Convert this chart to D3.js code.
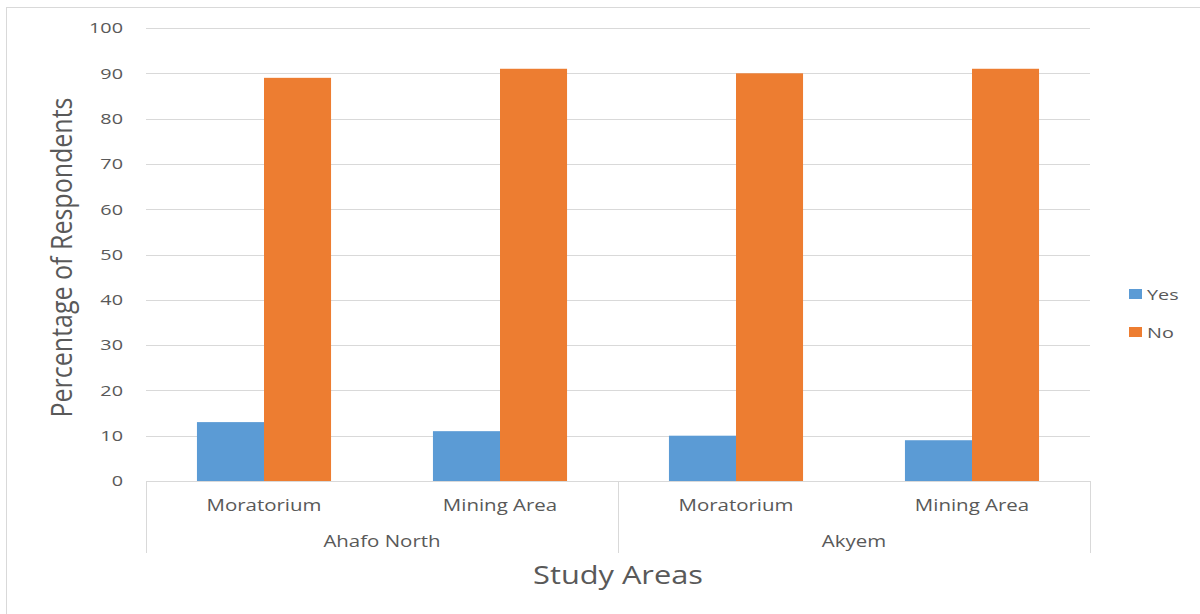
<!DOCTYPE html>
<html><head><meta charset="utf-8">
<script src="https://cdn.jsdelivr.net/npm/d3@7"></script>
<style>body{margin:0;background:#fff;}svg{display:block;font-family:"Open Sans",sans-serif;}</style>
</head><body><svg id="c" width="1200" height="614"></svg>
<script>
const groups = ["Ahafo North", "Akyem"];
const subcats = ["Moratorium", "Mining Area", "Moratorium", "Mining Area"];
const groupOf = [0, 0, 1, 1];
const seriesNames = ["Yes", "No"];
const yesVals = [13, 11, 10, 9];
const noVals = [89, 91, 90, 91];
const yTicks = [0, 10, 20, 30, 40, 50, 60, 70, 80, 90, 100];
const colors = ["#5B9BD5", "#ED7D31"];

const svg = d3.select("#c");
const L = 146, R = 1090, T = 28, B = 481;
const SX = 1.32;
svg.append("rect").attr("x", 6.5).attr("y", 7.5).attr("width", 1200).attr("height", 620)
  .attr("fill", "none").attr("stroke", "#d9d9d9");

const y = d3.scaleLinear().domain([0, 100]).range([B, T]);
const x0 = d3.scaleBand().domain(d3.range(subcats.length)).range([L, R]).paddingInner(0).paddingOuter(0);
const x1 = d3.scaleBand().domain(seriesNames).range([0, x0.bandwidth()]).paddingInner(0).paddingOuter(0.76);

// gridlines
svg.append("g").selectAll("line").data(yTicks.filter(d => d > 0)).join("line")
  .attr("x1", L).attr("x2", R).attr("y1", d => Math.round(y(d)) + 0.5).attr("y2", d => Math.round(y(d)) + 0.5)
  .attr("stroke", "#d9d9d9").attr("stroke-width", 1);

// y tick labels via axis
const yAxis = svg.append("g").attr("transform", `translate(${L},0)`)
  .call(d3.axisLeft(y).tickValues(yTicks).tickSize(0).tickPadding(0));
yAxis.select(".domain").remove();
yAxis.selectAll(".tick text").attr("x", null)
  .attr("transform", `translate(-23,0) scale(${SX},1)`)
  .attr("font-size", 15).attr("fill", "#595959").attr("font-family", "Open Sans");

// bars
const data = subcats.map((s, i) => ({i, vals: [yesVals[i], noVals[i]]}));
const g = svg.append("g");
g.selectAll("g").data(data).join("g").attr("transform", d => `translate(${x0(d.i)},0)`)
  .selectAll("rect").data(d => d.vals.map((v, k) => ({k, v}))).join("rect")
  .attr("x", d => x1(seriesNames[d.k])).attr("width", x1.bandwidth())
  .attr("y", d => y(d.v)).attr("height", d => B - y(d.v)).attr("fill", d => colors[d.k]);

// x axis line and multi-level separators
svg.append("line").attr("x1", L).attr("x2", R).attr("y1", B + 0.5).attr("y2", B + 0.5).attr("stroke", "#d9d9d9");
const sepX = [L, x0(2), R];
svg.append("g").selectAll("line").data(sepX).join("line")
  .attr("x1", d => d + 0.5).attr("x2", d => d + 0.5).attr("y1", B).attr("y2", 553)
  .attr("stroke", "#d9d9d9");

svg.append("g").selectAll("text").data(subcats).join("text")
  .attr("transform", (d, i) => `translate(${x0(i) + x0.bandwidth() / 2},511) scale(${SX},1)`)
  .attr("text-anchor", "middle").attr("font-size", 15.5).attr("fill", "#595959").text(d => d);
svg.append("g").selectAll("text").data(groups).join("text")
  .attr("transform", (d, gi) => { const idx = d3.range(subcats.length).filter(i => groupOf[i] === gi); const cx = (x0(idx[0]) + x0(idx[idx.length - 1]) + x0.bandwidth()) / 2; return `translate(${cx},547) scale(${SX},1)`; })
  .attr("text-anchor", "middle").attr("font-size", 15.5).attr("fill", "#595959").text(d => d);

// titles
svg.append("text").attr("transform", `translate(${(L + R) / 2},584) scale(1.23,1)`).attr("text-anchor", "middle")
  .attr("font-size", 25).attr("fill", "#595959").text("Study Areas");
svg.append("text").attr("transform", `translate(72,${(T + B) / 2 + 3}) scale(1.15,1) rotate(-90)`).attr("text-anchor", "middle")
  .attr("font-size", 25).attr("fill", "#595959").text("Percentage of Respondents");

// legend
const lg = svg.append("g").selectAll("g").data(seriesNames).join("g")
  .attr("transform", (d, i) => `translate(1129,${289 + i * 38})`);
lg.append("rect").attr("width", 13).attr("height", 10).attr("fill", (d, i) => colors[i]);
lg.append("text").attr("transform", `translate(18,11) scale(${SX},1)`).attr("font-size", 15).attr("fill", "#595959").text(d => d);
</script></body></html>
